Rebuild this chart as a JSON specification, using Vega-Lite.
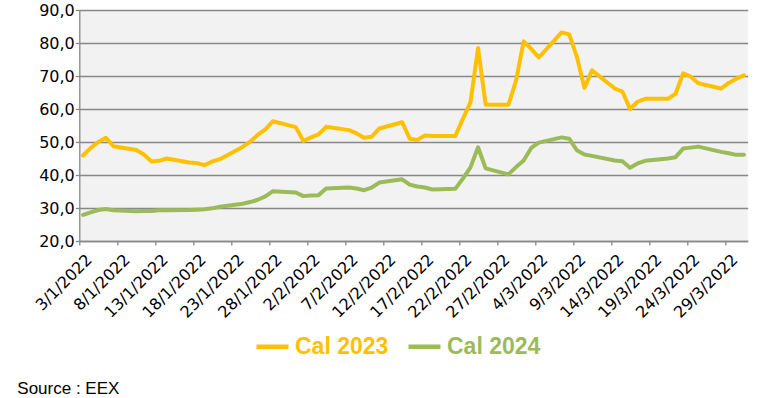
{
  "$schema": "https://vega.github.io/schema/vega-lite/v6.json",
  "width": 668.4,
  "height": 231,
  "autosize": {"type": "none"},
  "padding": {"left": 79.3, "top": 10, "right": 10.3, "bottom": 157},
  "background": "white",
  "title": {
    "text": "Source : EEX",
    "orient": "bottom",
    "anchor": "start",
    "frame": "group",
    "font": "Liberation Sans",
    "fontSize": 17,
    "fontWeight": "normal",
    "color": "#000000",
    "dx": -62,
    "offset": 22
  },
  "config": {
    "view": {"fill": "#F2F2F2", "stroke": null},
    "axis": {
      "labelFont": "DejaVu Sans",
      "labelFontSize": 16,
      "labelColor": "#000000",
      "domainColor": "#888888",
      "tickColor": "#888888",
      "gridColor": "#888888",
      "domainWidth": 1.3,
      "tickWidth": 1.3,
      "gridWidth": 1.3,
      "tickSize": 4,
      "title": null
    }
  },
  "data": {
    "values": [
      {"date": "2022-01-03", "Cal 2023": 45.9, "Cal 2024": 27.9},
      {"date": "2022-01-04", "Cal 2023": 48.2, "Cal 2024": 28.7},
      {"date": "2022-01-05", "Cal 2023": 50.0, "Cal 2024": 29.4},
      {"date": "2022-01-06", "Cal 2023": 51.3, "Cal 2024": 29.7},
      {"date": "2022-01-07", "Cal 2023": 48.7, "Cal 2024": 29.3},
      {"date": "2022-01-10", "Cal 2023": 47.6, "Cal 2024": 29.0},
      {"date": "2022-01-11", "Cal 2023": 46.2, "Cal 2024": 29.1},
      {"date": "2022-01-12", "Cal 2023": 44.1, "Cal 2024": 29.1},
      {"date": "2022-01-13", "Cal 2023": 44.3, "Cal 2024": 29.3},
      {"date": "2022-01-14", "Cal 2023": 45.0, "Cal 2024": 29.3},
      {"date": "2022-01-17", "Cal 2023": 43.8, "Cal 2024": 29.4},
      {"date": "2022-01-18", "Cal 2023": 43.6, "Cal 2024": 29.5},
      {"date": "2022-01-19", "Cal 2023": 43.0, "Cal 2024": 29.6},
      {"date": "2022-01-20", "Cal 2023": 44.1, "Cal 2024": 29.9},
      {"date": "2022-01-21", "Cal 2023": 44.8, "Cal 2024": 30.4},
      {"date": "2022-01-24", "Cal 2023": 48.5, "Cal 2024": 31.3},
      {"date": "2022-01-25", "Cal 2023": 50.1, "Cal 2024": 31.8},
      {"date": "2022-01-26", "Cal 2023": 52.2, "Cal 2024": 32.5},
      {"date": "2022-01-27", "Cal 2023": 53.8, "Cal 2024": 33.5},
      {"date": "2022-01-28", "Cal 2023": 56.3, "Cal 2024": 35.1},
      {"date": "2022-01-31", "Cal 2023": 54.5, "Cal 2024": 34.7},
      {"date": "2022-02-01", "Cal 2023": 50.3, "Cal 2024": 33.6},
      {"date": "2022-02-02", "Cal 2023": 51.4, "Cal 2024": 33.8},
      {"date": "2022-02-03", "Cal 2023": 52.3, "Cal 2024": 33.9},
      {"date": "2022-02-04", "Cal 2023": 54.6, "Cal 2024": 35.9},
      {"date": "2022-02-07", "Cal 2023": 53.6, "Cal 2024": 36.2},
      {"date": "2022-02-08", "Cal 2023": 52.6, "Cal 2024": 35.9},
      {"date": "2022-02-09", "Cal 2023": 51.3, "Cal 2024": 35.4},
      {"date": "2022-02-10", "Cal 2023": 51.6, "Cal 2024": 36.2},
      {"date": "2022-02-11", "Cal 2023": 54.1, "Cal 2024": 37.7},
      {"date": "2022-02-14", "Cal 2023": 56.0, "Cal 2024": 38.7},
      {"date": "2022-02-15", "Cal 2023": 51.0, "Cal 2024": 37.1},
      {"date": "2022-02-16", "Cal 2023": 50.6, "Cal 2024": 36.5},
      {"date": "2022-02-17", "Cal 2023": 52.0, "Cal 2024": 36.2},
      {"date": "2022-02-18", "Cal 2023": 51.8, "Cal 2024": 35.6},
      {"date": "2022-02-21", "Cal 2023": 51.8, "Cal 2024": 35.8},
      {"date": "2022-02-22", "Cal 2023": 57.0, "Cal 2024": 38.9},
      {"date": "2022-02-23", "Cal 2023": 62.0, "Cal 2024": 42.3},
      {"date": "2022-02-24", "Cal 2023": 78.5, "Cal 2024": 48.4},
      {"date": "2022-02-25", "Cal 2023": 61.3, "Cal 2024": 42.0},
      {"date": "2022-02-28", "Cal 2023": 61.3, "Cal 2024": 40.2},
      {"date": "2022-03-01", "Cal 2023": 68.6, "Cal 2024": 42.4},
      {"date": "2022-03-02", "Cal 2023": 80.5, "Cal 2024": 44.4},
      {"date": "2022-03-03", "Cal 2023": 78.2, "Cal 2024": 48.2},
      {"date": "2022-03-04", "Cal 2023": 75.6, "Cal 2024": 49.8},
      {"date": "2022-03-07", "Cal 2023": 83.2, "Cal 2024": 51.4},
      {"date": "2022-03-08", "Cal 2023": 82.6, "Cal 2024": 51.0},
      {"date": "2022-03-09", "Cal 2023": 75.9, "Cal 2024": 47.5},
      {"date": "2022-03-10", "Cal 2023": 66.4, "Cal 2024": 46.2},
      {"date": "2022-03-11", "Cal 2023": 71.7, "Cal 2024": 45.8},
      {"date": "2022-03-14", "Cal 2023": 66.2, "Cal 2024": 44.4},
      {"date": "2022-03-15", "Cal 2023": 65.3, "Cal 2024": 44.2},
      {"date": "2022-03-16", "Cal 2023": 60.0, "Cal 2024": 42.2},
      {"date": "2022-03-17", "Cal 2023": 62.2, "Cal 2024": 43.5},
      {"date": "2022-03-18", "Cal 2023": 63.1, "Cal 2024": 44.3},
      {"date": "2022-03-21", "Cal 2023": 63.1, "Cal 2024": 45.0},
      {"date": "2022-03-22", "Cal 2023": 64.6, "Cal 2024": 45.4},
      {"date": "2022-03-23", "Cal 2023": 70.8, "Cal 2024": 48.0},
      {"date": "2022-03-24", "Cal 2023": 69.8, "Cal 2024": 48.3},
      {"date": "2022-03-25", "Cal 2023": 67.8, "Cal 2024": 48.6},
      {"date": "2022-03-28", "Cal 2023": 66.2, "Cal 2024": 47.0},
      {"date": "2022-03-29", "Cal 2023": 67.9, "Cal 2024": 46.6},
      {"date": "2022-03-30", "Cal 2023": 69.2, "Cal 2024": 46.1},
      {"date": "2022-03-31", "Cal 2023": 70.2, "Cal 2024": 46.1}
    ]
  },
  "transform": [
    {"fold": ["Cal 2023", "Cal 2024"], "as": ["series", "value"]}
  ],
  "mark": {
    "type": "line",
    "strokeWidth": 4,
    "strokeJoin": "round",
    "strokeCap": "round",
    "xOffset": 3.8
  },
  "encoding": {
    "x": {
      "field": "date",
      "type": "temporal",
      "scale": {
        "type": "utc",
        "domain": [
          {"year": 2022, "month": 1, "date": 3, "utc": true},
          {"year": 2022, "month": 4, "date": 1, "utc": true}
        ],
        "nice": false
      },
      "axis": {
        "values": [
          {"year": 2022, "month": 1, "date": 3, "utc": true},
          {"year": 2022, "month": 1, "date": 8, "utc": true},
          {"year": 2022, "month": 1, "date": 13, "utc": true},
          {"year": 2022, "month": 1, "date": 18, "utc": true},
          {"year": 2022, "month": 1, "date": 23, "utc": true},
          {"year": 2022, "month": 1, "date": 28, "utc": true},
          {"year": 2022, "month": 2, "date": 2, "utc": true},
          {"year": 2022, "month": 2, "date": 7, "utc": true},
          {"year": 2022, "month": 2, "date": 12, "utc": true},
          {"year": 2022, "month": 2, "date": 17, "utc": true},
          {"year": 2022, "month": 2, "date": 22, "utc": true},
          {"year": 2022, "month": 2, "date": 27, "utc": true},
          {"year": 2022, "month": 3, "date": 4, "utc": true},
          {"year": 2022, "month": 3, "date": 9, "utc": true},
          {"year": 2022, "month": 3, "date": 14, "utc": true},
          {"year": 2022, "month": 3, "date": 19, "utc": true},
          {"year": 2022, "month": 3, "date": 24, "utc": true},
          {"year": 2022, "month": 3, "date": 29, "utc": true}
        ],
        "labelExpr": "utcFormat(datum.value, '%-d/%-m/%Y')",
        "labelAngle": -45,
        "labelPadding": 6,
        "labelOffset": 4,
        "grid": false,
        "labelOverlap": false,
        "labelBound": false
      }
    },
    "y": {
      "field": "value",
      "type": "quantitative",
      "scale": {"domain": [20, 90], "nice": false, "zero": false},
      "axis": {
        "values": [20, 30, 40, 50, 60, 70, 80, 90],
        "labelExpr": "replace(format(datum.value, '.1f'), '.', ',')",
        "labelPadding": 1,
        "grid": true
      }
    },
    "color": {
      "field": "series",
      "type": "nominal",
      "scale": {"domain": ["Cal 2023", "Cal 2024"], "range": ["#FFC000", "#9BBB59"]},
      "legend": {
        "title": null,
        "orient": "none",
        "direction": "horizontal",
        "legendX": 174.7,
        "legendY": 318,
        "padding": 0,
        "symbolType": "stroke",
        "symbolSize": 1024,
        "symbolStrokeWidth": 4.5,
        "labelFont": "Liberation Sans",
        "labelFontSize": 23,
        "labelFontWeight": "bold",
        "labelColor": {"expr": "datum.label == 'Cal 2023' ? '#FFC000' : '#9BBB59'"},
        "labelOffset": 4,
        "columnPadding": 10,
        "labelLimit": 300
      }
    }
  }
}
